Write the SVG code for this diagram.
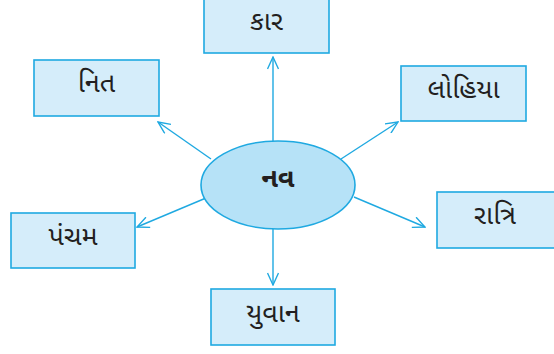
<svg xmlns="http://www.w3.org/2000/svg" width="554" height="354" viewBox="0 0 554 354">
<defs>
<style>
.box{fill:#d5edfa;stroke:#1fa9e1;stroke-width:1.6}
.ell{fill:#b6e2f7;stroke:#1fa9e1;stroke-width:1.6}
.lbl{font-family:"Noto Sans Gujarati","Lohit Gujarati","Noto Sans","DejaVu Sans",sans-serif;font-size:27px;fill:#231f20;text-anchor:middle;dominant-baseline:central}
.bold{font-weight:bold}
.con{stroke:#1fa9e1;stroke-width:1.4;fill:none;marker-end:url(#arr)}
</style>
<marker id="arr" viewBox="0 0 14 12" refX="13" refY="6" markerWidth="14" markerHeight="12" markerUnits="userSpaceOnUse" orient="auto">
<path d="M1,0.5 L13,6 L1,11.5" fill="none" stroke="#1fa9e1" stroke-width="1.4"/>
</marker>
</defs>
<g id="connectors">
<line class="con" x1="273" y1="142" x2="273" y2="57"/>
<line class="con" x1="211" y1="159" x2="158" y2="122"/>
<line class="con" x1="341" y1="159" x2="398" y2="122"/>
<line class="con" x1="206" y1="198" x2="137" y2="227"/>
<line class="con" x1="354" y1="197" x2="425" y2="227"/>
<line class="con" x1="273" y1="229" x2="273" y2="285"/>
</g>
<g id="center">
<ellipse class="ell" cx="278" cy="185" rx="77" ry="44"/>
<text class="lbl bold" x="278" y="180">નવ</text>
</g>
<g id="kar">
<rect class="box" x="204" y="-2" width="125" height="55"/>
<text class="lbl" x="266.5" y="23">કાર</text>
</g>
<g id="nit">
<rect class="box" x="34" y="60" width="125" height="56"/>
<text class="lbl" x="96.5" y="85">નિત</text>
</g>
<g id="lohiya">
<rect class="box" x="401" y="66" width="125" height="55"/>
<text class="lbl" x="463.5" y="91">લોહિયા</text>
</g>
<g id="pancham">
<rect class="box" x="11" y="213" width="124" height="55"/>
<text class="lbl" x="73" y="238">પંચમ</text>
</g>
<g id="ratri">
<rect class="box" x="437" y="192" width="125" height="56"/>
<text class="lbl" x="495" y="217">રાત્રિ</text>
</g>
<g id="yuvan">
<rect class="box" x="211" y="289" width="124" height="56"/>
<text class="lbl" x="273" y="315">યુવાન</text>
</g>
</svg>
